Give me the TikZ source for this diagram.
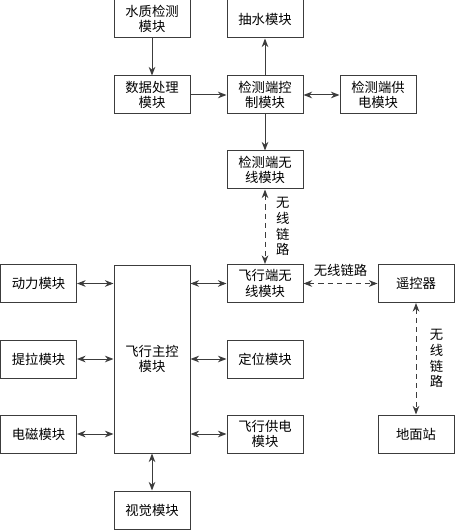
\documentclass[tikz,border=0pt]{standalone}
\usepackage{fontspec}
\usepackage{tikz}
\usetikzlibrary{arrows.meta}
\usetikzlibrary{positioning}
\newfontfamily\cjk{Noto Sans CJK SC}
\definecolor{linegray}{RGB}{60,60,60}
\tikzset{modbox/.style = {draw=linegray, line width=0.75pt, minimum width=57pt,
                          minimum height=28.5pt, inner sep=0pt, align=center,
                          font=\cjk\fontsize{10}{11.8}\selectfont},
         link/.style = {draw=linegray, line width=0.75pt,
                        -{Stealth[length=6.5pt,width=5pt]}},
         biLink/.style = {link, {Stealth[length=6.5pt,width=5pt]}-{Stealth[length=6.5pt,width=5pt]}},
         wlLink/.style = {biLink, dash pattern=on 4pt off 3pt},
         wlText/.style = {align=center, font=\cjk\fontsize{10}{11.8}\selectfont, inner sep=0pt}}

\begin{document}
\begin{tikzpicture}[x=0.75pt, y=-0.75pt]
    \useasboundingbox (0, 0) rectangle (455, 530);

    % detection side
    \node [modbox] (water) at (152, 19) {水质检测\\模块};
    \node [modbox] (pump) at (265, 19) {抽水模块};
    \node [modbox] (data) at (152, 95) {数据处理\\模块};
    \node [modbox] (detCtrl) at (265, 95) {检测端控\\制模块};
    \node [modbox] (detPower) at (378, 95) {检测端供\\电模块};
    \node [modbox] (detWireless) at (265, 170) {检测端无\\线模块};

    % flight side
    \node [modbox, minimum height=141pt] (flightCtrl) at (152, 359) {飞行主控\\模块};
    \node [modbox] (thrust) at (38.5, 283.5) {动力模块};
    \node [modbox] (lift) at (38.5, 359) {提拉模块};
    \node [modbox] (magnet) at (38.5, 434) {电磁模块};
    \node [modbox] (flightWireless) at (265, 283.5) {飞行端无\\线模块};
    \node [modbox] (locate) at (265, 359) {定位模块};
    \node [modbox] (flightPower) at (265, 434) {飞行供电\\模块};
    \node [modbox] (vision) at (152, 510) {视觉模块};

    % ground side
    \node [modbox] (remote) at (416, 283.5) {遥控器};
    \node [modbox] (station) at (416, 434) {地面站};

    \draw [link] (water) -- (data);
    \draw [link] (data) -- (detCtrl);
    \draw [link] (detCtrl) -- (pump);
    \draw [biLink] (detCtrl) -- (detPower);
    \draw [link] (detCtrl) -- (detWireless);

    \draw [biLink] (thrust) -- (thrust -| flightCtrl.west);
    \draw [biLink] (lift) -- (lift -| flightCtrl.west);
    \draw [biLink] (magnet) -- (magnet -| flightCtrl.west);
    \draw [biLink] (flightWireless -| flightCtrl.east) -- (flightWireless);
    \draw [biLink] (locate -| flightCtrl.east) -- (locate);
    \draw [biLink] (flightPower -| flightCtrl.east) -- (flightPower);
    \draw [biLink] (flightCtrl) -- (vision);

    \draw [wlLink] (detWireless) -- (flightWireless)
      node [wlText, midway, right=8pt] {无\\线\\链\\路};
    \draw [wlLink] (flightWireless) -- (remote)
      node [wlText, midway, above=5pt] {无线链路};
    \draw [wlLink] (remote) -- (station)
      node [wlText, midway, right=10pt] {无\\线\\链\\路};
  \end{tikzpicture}
\end{document}
